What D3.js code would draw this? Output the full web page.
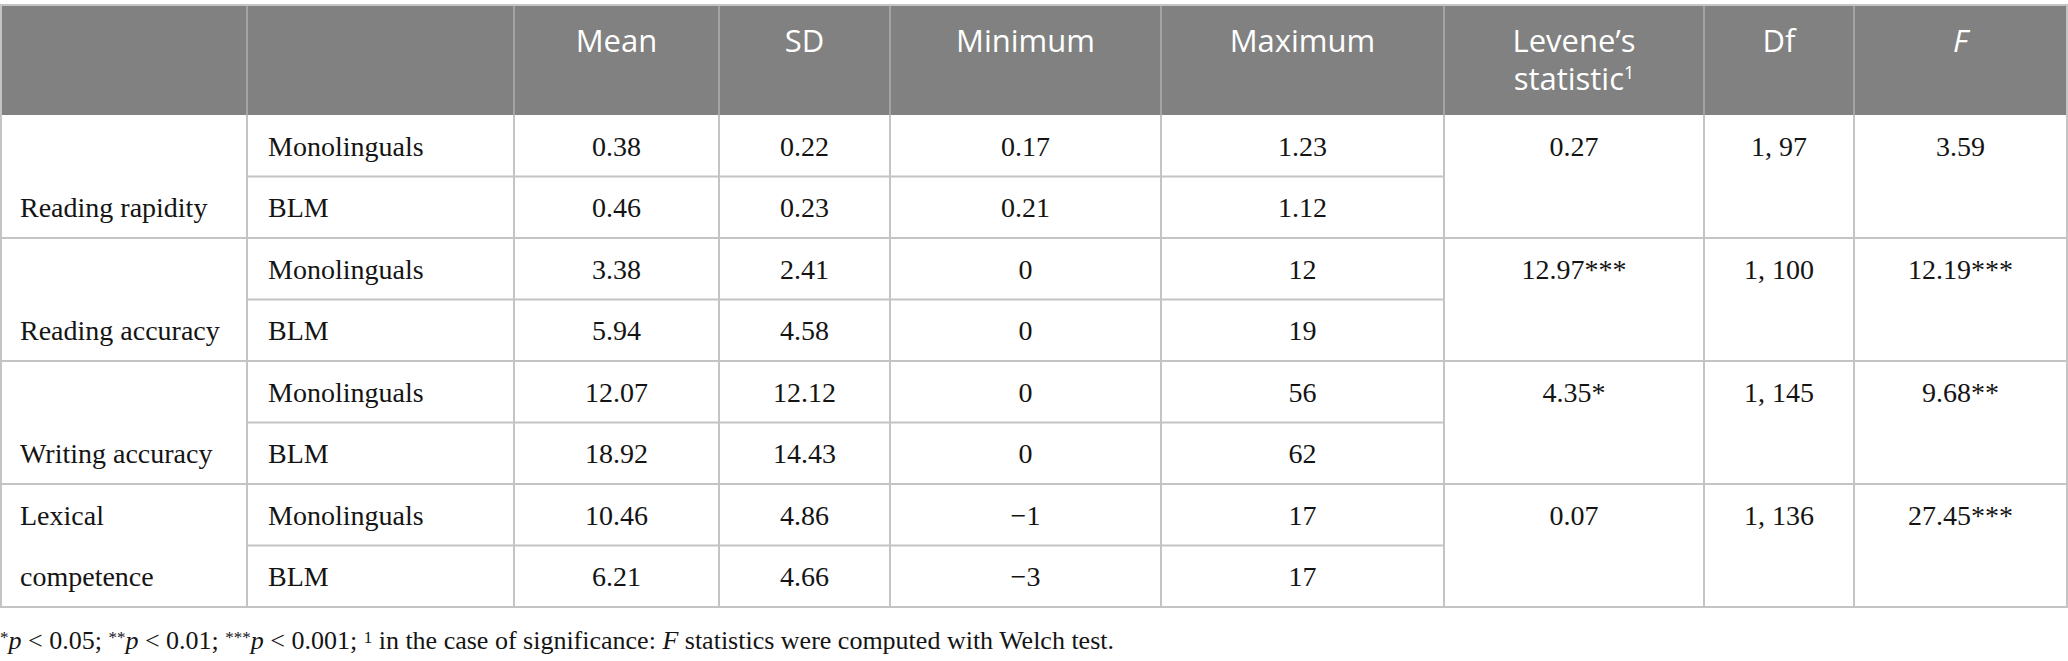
<!DOCTYPE html>
<html>
<head>
<meta charset="utf-8">
<script src="https://cdn.jsdelivr.net/npm/d3@7"></script>
<style>
  body { margin: 0; background: #fff; }
  .head { font-family: "Open Sans", sans-serif; fill: #fff; }
  .cell { font-family: "Liberation Serif", serif; fill: #141414; }
</style>
</head>
<body>
<div id="table"></div>
<script>
// Table content
const measures = ["Reading rapidity", "Reading accuracy", "Writing accuracy", "Lexical competence"];
const groups = ["Monolinguals", "BLM"];
const headers = ["", "", "Mean", "SD", "Minimum", "Maximum", "Levene\u2019s statistic", "Df", "F"];

// one value per row (measure x group)
const meanVals = ["0.38", "0.46", "3.38", "5.94", "12.07", "18.92", "10.46", "6.21"];
const sdVals = ["0.22", "0.23", "2.41", "4.58", "12.12", "14.43", "4.86", "4.66"];
const minVals = ["0.17", "0.21", "0", "0", "0", "0", "\u22121", "\u22123"];
const maxVals = ["1.23", "1.12", "12", "19", "56", "62", "17", "17"];

// one value per measure (merged cells)
const leveneVals = ["0.27", "12.97***", "4.35*", "0.07"];
const dfVals = ["1, 97", "1, 100", "1, 145", "1, 136"];
const fVals = ["3.59", "12.19***", "9.68**", "27.45***"];

const W = 2068, H = 661;
const colEdges = [0, 247, 514, 719, 890, 1161, 1444, 1704, 1854, 2067];
const tableTop = 5, headBottom = 115, bodyBottom = 607;
const lineColor = "#c4c4c4";

const svg = d3.select("#table").append("svg")
  .attr("width", W)
  .attr("height", H);

// row scale: one band per measure x group
const rowKeys = d3.cross(measures, groups).map(d => d.join("|"));
const y = d3.scaleBand().domain(rowKeys).range([headBottom, bodyBottom]);
const x = d3.scaleOrdinal().domain(headers.map((d, i) => i)).range(colEdges.slice(0, -1));
const colW = i => colEdges[i + 1] - colEdges[i];
const colMid = i => x(i) + colW(i) / 2;

// header background
svg.append("rect")
  .attr("x", 0).attr("y", tableTop)
  .attr("width", colEdges[9]).attr("height", headBottom - tableTop)
  .attr("fill", "#808180");

// header separators
svg.selectAll(".hsep")
  .data(colEdges.slice(1, -1))
  .join("line")
  .attr("x1", d => d).attr("x2", d => d)
  .attr("y1", tableTop).attr("y2", headBottom)
  .attr("stroke", "#a3a3a3").attr("stroke-width", 2);

// header labels
const head = svg.selectAll(".head")
  .data(headers.map((h, i) => ({h, i})).filter(d => d.h))
  .join("text")
  .attr("class", "head")
  .attr("text-anchor", "middle")
  .attr("font-size", 31)
  .attr("x", d => colMid(d.i))
  .attr("y", 52);

head.each(function(d) {
  const t = d3.select(this);
  if (d.h.startsWith("Levene")) {
    t.append("tspan").attr("x", colMid(d.i)).text("Levene\u2019s");
    t.append("tspan").attr("x", colMid(d.i)).attr("dy", 38).text("statistic");
    t.append("tspan").attr("font-size", 18).attr("dy", -11).text("1");
  } else if (d.h === "F") {
    t.attr("font-style", "italic").text(d.h);
  } else {
    t.text(d.h);
  }
});

// body cells
const rows = rowKeys.map((k, r) => ({k, r, group: groups[r % 2]}));
const cols = [meanVals, sdVals, minVals, maxVals];

const body = svg.append("g");

body.selectAll(".grp")
  .data(rows)
  .join("text")
  .attr("class", "cell")
  .attr("font-size", 28)
  .attr("x", x(1) + 21)
  .attr("y", d => y(d.k) + y.bandwidth() / 2)
  .attr("dy", "0.35em")
  .text(d => d.group);

cols.forEach((vals, c) => {
  body.selectAll(".c" + c)
    .data(rows)
    .join("text")
    .attr("class", "cell")
    .attr("font-size", 28)
    .attr("text-anchor", "middle")
    .attr("x", colMid(c + 2))
    .attr("y", d => y(d.k) + y.bandwidth() / 2)
    .attr("dy", "0.35em")
    .text(d => vals[d.r]);
});

// merged cells: text on the first row of each measure
[leveneVals, dfVals, fVals].forEach((vals, c) => {
  body.selectAll(".m" + c)
    .data(measures)
    .join("text")
    .attr("class", "cell")
    .attr("font-size", 28)
    .attr("text-anchor", "middle")
    .attr("x", colMid(c + 6))
    .attr("y", m => y(m + "|" + groups[0]) + y.bandwidth() / 2)
    .attr("dy", "0.35em")
    .text((m, i) => vals[i]);
});

// measure labels, bottom aligned in the merged cell
const labelLines = {"Lexical competence": ["Lexical", "competence"]};
measures.forEach(m => {
  const lines = labelLines[m] || [m];
  lines.forEach((ln, j) => {
    const g = groups[groups.length - lines.length + j];
    body.append("text")
      .attr("class", "cell")
      .attr("font-size", 28)
      .attr("x", x(0) + 20)
      .attr("y", y(m + "|" + g) + y.bandwidth() / 2)
      .attr("dy", "0.35em")
      .text(ln);
  });
});

// grid lines
const grid = svg.append("g").attr("stroke", lineColor).attr("stroke-width", 2);
// row separators inside a measure (only across the per-group columns)
measures.forEach(m => {
  const yy = y(m + "|" + groups[1]);
  grid.append("line").attr("x1", x(1)).attr("x2", x(6)).attr("y1", yy).attr("y2", yy);
});
// measure separators
measures.slice(1).forEach(m => {
  const yy = y(m + "|" + groups[0]);
  grid.append("line").attr("x1", 0).attr("x2", colEdges[9]).attr("y1", yy).attr("y2", yy);
});
// vertical lines in body
grid.selectAll(".v")
  .data(colEdges)
  .join("line")
  .attr("x1", d => Math.max(1, d)).attr("x2", d => Math.max(1, d))
  .attr("y1", headBottom).attr("y2", bodyBottom);
// outer border
grid.append("rect")
  .attr("x", 1).attr("y", tableTop)
  .attr("width", colEdges[9] - 1).attr("height", bodyBottom - tableTop)
  .attr("fill", "none");

// footnote
const fn = svg.append("text")
  .attr("class", "cell")
  .attr("font-size", 26)
  .attr("x", 0)
  .attr("y", 649);
const parts = [
  ["*", "sup"], ["p", "i"], [" < 0.05; ", ""], ["**", "sup"], ["p", "i"], [" < 0.01; ", ""],
  ["***", "sup"], ["p", "i"], [" < 0.001; ", ""], ["1", "sup"], [" in the case of significance: ", ""],
  ["F", "i"], [" statistics were computed with Welch test.", ""]
];
parts.forEach(([t, s]) => {
  const sp = fn.append("tspan").text(t);
  if (s === "i") sp.attr("font-style", "italic");
  if (s === "sup") sp.attr("font-size", 17).attr("baseline-shift", "35%");
});
</script>
</body>
</html>
